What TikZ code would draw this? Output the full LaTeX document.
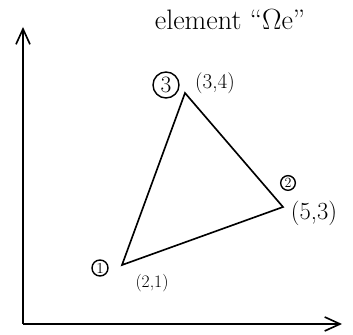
\documentclass[tikz,border=0pt]{standalone}
\usepackage{amsmath,amssymb}
\usepackage{xcolor}
\usepackage{tikz}
\usetikzlibrary{arrows.meta, positioning}

\begin{document}
\begin{tikzpicture}[
      line width=1.4pt,
      axis/.style={-{Straight Barb[length=4.6mm, width=4.2mm]}},
      num/.style={draw, circle, inner sep=0pt, line width=1.2pt},
      coord/.style={font=\fontsize{18}{20}\selectfont}
    ]
      \useasboundingbox (0,0) rectangle (10.59,10.05);

      % axes
      \coordinate (o)  at (0.69, 0.33);
      \coordinate (ye) at (0.69, 9.24);
      \coordinate (xe) at (10.26, 0.33);
      \draw[axis] (o) -- (ye);
      \draw[axis] (o) -- (xe);

      % title
      \node[font=\fontsize{24}{26}\selectfont] (title) at (6.90, 9.45)
           {element ``$\Omega$e''};

      % element
      \coordinate (v1) at (3.66, 2.10);
      \coordinate (v2) at (8.49, 3.84);
      \coordinate (v3) at (5.55, 7.26);
      \draw (v1) -- (v2) -- (v3) -- cycle;

      % node numbers
      \node[num, minimum size=0.78cm, font=\fontsize{20}{22}\selectfont] (n3) at (4.98, 7.50) {3};
      \node[num, minimum size=0.48cm, font=\fontsize{13}{15}\selectfont] (n1) at (3.00, 2.01) {1};
      \node[num, minimum size=0.44cm, font=\fontsize{12}{14}\selectfont] (n2) at (8.64, 4.56) {2};

      % coordinates
      \node[coord] (c3) at (6.45, 7.56) {(3,4)};
      \node[coord, font=\fontsize{21}{23}\selectfont] (c2) at (9.42, 3.66) {(5,3)};
      \node[coord, font=\fontsize{15}{17}\selectfont] (c1) at (4.56, 1.56) {(2,1)};
    \end{tikzpicture}
\end{document}
